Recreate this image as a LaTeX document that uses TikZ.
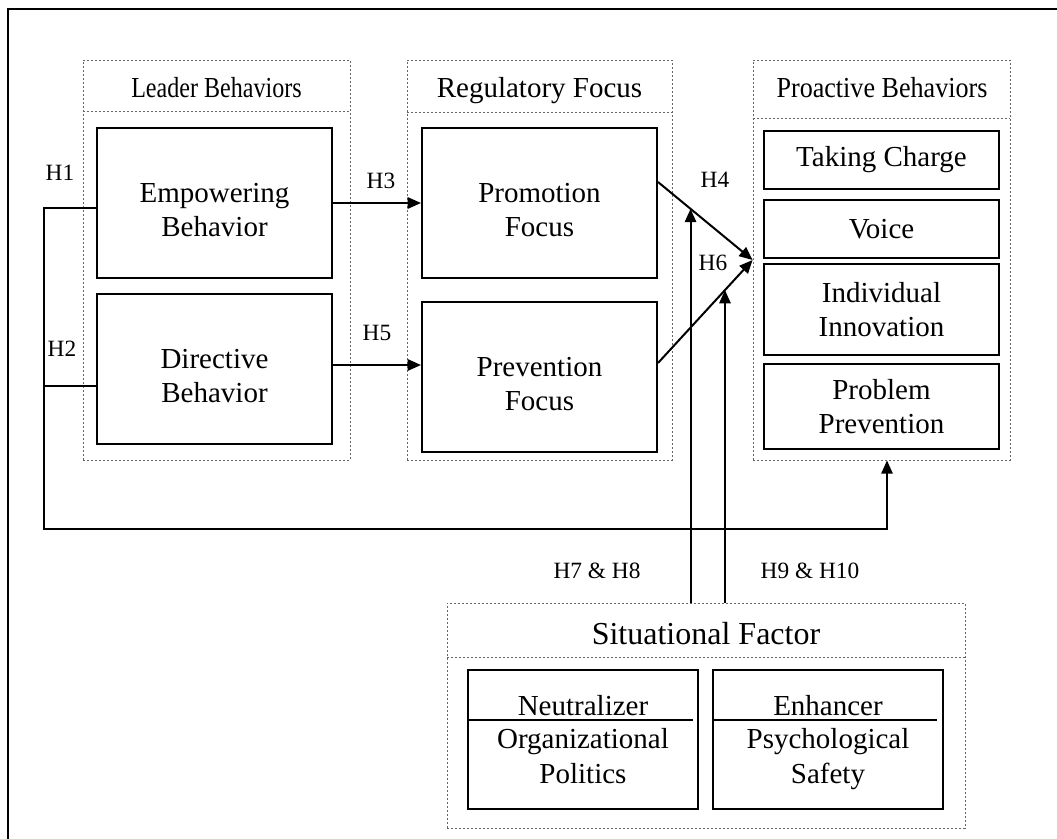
\documentclass[tikz,border=0pt]{standalone}
\usepackage{fontspec}
\setmainfont{Liberation Serif}
\usetikzlibrary{arrows.meta,calc}
\begin{document}
\begin{tikzpicture}[x=0.75pt,y=-0.75pt,
  sz/.style 2 args={minimum width={#1*0.75pt},minimum height={#2*0.75pt}},
  box/.style={draw,line width=1.5pt,inner sep=0pt,align=center,font=\fontsize{21.75}{25.5}\selectfont},
  txt/.style={inner sep=0pt,align=center,font=\fontsize{21.75}{25.5}\selectfont},
  grp/.style={draw=black!60,line width=0.6pt,dash pattern=on 1.8pt off 1.2pt,inner sep=0pt},
  sepl/.style={draw=black!60,line width=0.6pt,dash pattern=on 1.8pt off 1.2pt},
  hdr/.style={inner sep=0pt,anchor=base,font=\fontsize{21.75}{25.5}\selectfont},
  lab/.style={inner sep=0pt,anchor=base,font=\fontsize{17.5}{20}\selectfont},
  conn/.style={line width=1.5pt},
  arr/.style={line width=1.5pt,-{Triangle[length=10pt,width=8.5pt]}}]
\useasboundingbox (0,0) rectangle (1057,839);
% outer frame
\draw[line width=1.5pt] (7.5,839) -- (7.5,8.5) -- (1057,8.5);

% groups
\node[grp,sz={267}{400}] (lb) at (216.5,260) {};
\draw[sepl] (lb.west |- 0,111) -- (lb.east |- 0,111);
\node[hdr] (lbh) at (216.5,97) {\scalebox{0.83}[1]{Leader Behaviors}};

\node[grp,sz={265}{400}] (rf) at (539.5,260) {};
\draw[sepl] (rf.west |- 0,112) -- (rf.east |- 0,112);
\node[hdr] (rfh) at (539.5,97.5) {Regulatory Focus};

\node[grp,sz={257}{400}] (pro) at (881.5,260) {};
\draw[sepl] (pro.west |- 0,118) -- (pro.east |- 0,118);
\node[hdr] (proh) at (882,97.5) {\scalebox{0.9}[1]{Proactive Behaviors}};

\node[grp,sz={518}{225}] (sit) at (706,715.5) {};
\draw[sepl] (sit.west |- 0,657) -- (sit.east |- 0,657);
\node[inner sep=0pt,anchor=base,font=\fontsize{24}{28}\selectfont] (sith) at (706,644) {Situational Factor};

% boxes
\node[box,sz={235}{150}] (emp) at (214.5,203) {};
\node[txt] (empt) at (214.5,210) {Empowering\\Behavior};
\node[box,sz={235}{150}] (dir) at (214.5,369) {};
\node[txt] (dirt) at (214.5,376) {Directive\\Behavior};
\node[box,sz={235}{150}] (prom) at (539.5,203) {};
\node[txt] (promt) at (539.5,210) {Promotion\\Focus};
\node[box,sz={235}{150}] (prev) at (539.5,377) {};
\node[txt] (prevt) at (539.5,384) {Prevention\\Focus};

\node[box,sz={235}{58}] (tc) at (881.5,160) {Taking Charge};
\node[box,sz={235}{58}] (vo) at (881.5,229) {Voice};
\node[box,sz={235}{91}] (ii) at (881.5,309.5) {Individual\\Innovation};
\node[box,sz={235}{85}] (pp) at (881.5,406.5) {Problem\\Prevention};

\node[box,sz={230}{139}] (neu) at (583,739.5) {};
\draw[conn] (neu.west |- 0,720) -- (693,720);
\node[hdr] (neu1) at (583,715) {Neutralizer};
\node[hdr] (neu2) at (583,748) {Organizational};
\node[hdr] (neu3) at (583,783) {Politics};

\node[box,sz={230}{139}] (enh) at (828,739.5) {};
\draw[conn] (enh.west |- 0,720) -- (937,720);
\node[hdr] (enh1) at (828,715) {Enhancer};
\node[hdr] (enh2) at (828,748) {Psychological};
\node[hdr] (enh3) at (828,783) {Safety};

% connectors
\draw[arr] (emp.east) -- (prom.west);
\draw[arr] (dir.east |- 0,365) -- (prev.west |- 0,365);
\coordinate (pA) at (prom.east |- 0,182);
\coordinate (pB) at (prev.east |- 0,363);
\draw[arr] (pA) -- (pro.west);
\draw[arr] (pB) -- (pro.west);
\coordinate (m1) at ($(pA)!0.344!(pro.west)$);
\coordinate (m2) at ($(pB)!0.708!(pro.west)$);
\draw[arr] (m1 |- sit.north) -- (m1);
\draw[arr] (m2 |- sit.north) -- (m2);

\draw[arr] (emp.west |- 0,208) -- (44,208) -- (44,529) -- (887,529) -- (pro.south -| 887,0);
\draw[conn] (dir.west |- 0,386) -- (44,386);

% labels
\node[lab] (h1) at (60,180.5) {H1};
\node[lab] (h2) at (62,356.5) {H2};
\node[lab] (h3) at (381,188) {H3};
\node[lab] (h5) at (377,340.5) {H5};
\node[lab] (h4) at (715,187.5) {H4};
\node[lab] (h6) at (713,270) {H6};
\node[lab] (h78) at (597,578.5) {H7 \& H8};
\node[lab] (h910) at (810,578.5) {H9 \& H10};
\end{tikzpicture}
\end{document}
